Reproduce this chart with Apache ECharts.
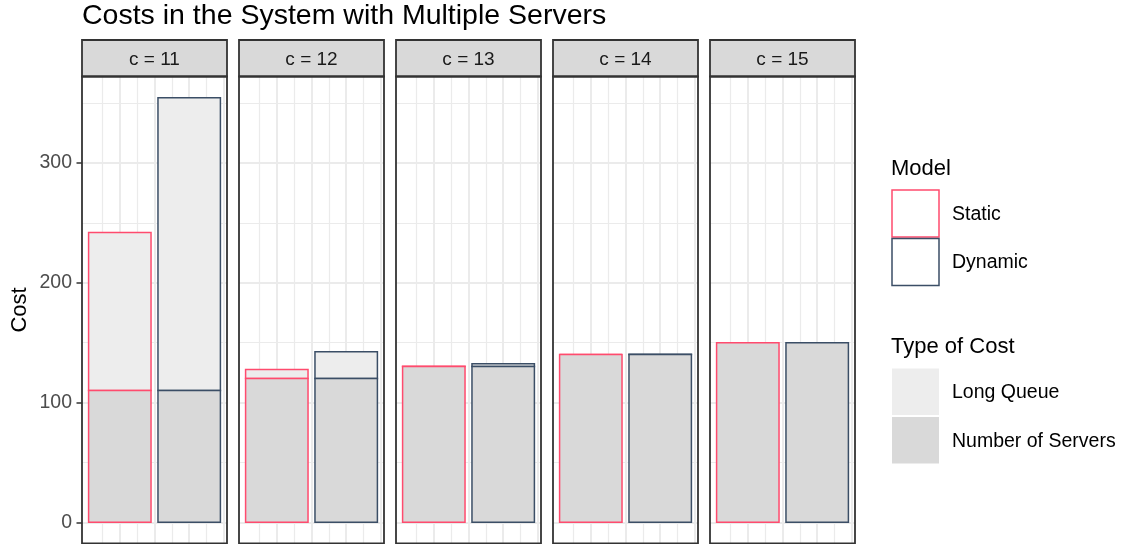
<!DOCTYPE html>
<html>
<head>
<meta charset="utf-8">
<script src="https://cdn.jsdelivr.net/npm/echarts@6/dist/echarts.min.js"></script>
<style>html,body{margin:0;padding:0;background:#fff}#c{width:1125px;height:544px}</style>
</head>
<body>
<div id="c"></div>
<script>
// ---- data ----
const facetLabels = ['c = 11', 'c = 12', 'c = 13', 'c = 14', 'c = 15'];
const modelNames = ['Static', 'Dynamic'];
const modelX = [1, 2];
const costTypes = ['Long Queue', 'Number of Servers'];
const serversStatic = [110, 120, 130, 140, 150];
const serversDynamic = [110, 120, 130, 140, 150];
const longQueueStatic = [132, 7.5, 0.3, 0, 0];
const longQueueDynamic = [244.5, 22.4, 2.4, 0.3, 0];
const yTickValues = [0, 100, 200, 300];
const yMinorValues = [50, 150, 250, 350];
const xMajorValues = [1, 1.5, 2, 2.5];
const xMinorValues = [0.75, 1.25, 1.75, 2.25];

// ---- style / layout ----
const FONT = 'Liberation Sans, Arial, Helvetica, sans-serif';
const modelColors = ['#ff4b6e', '#3b4e66'];
const typeFills = ['#ededed', '#d9d9d9'];
const P_LEFT0 = 82, P_STEP = 157, P_W = 145, P_TOP = 76.5, P_H = 467, STRIP_TOP = 40;
const BAR_HALF = 0.45;
const X_MIN = 0.455, X_MAX = 2.545;

const servers = [serversStatic, serversDynamic];
const longQ = [longQueueStatic, longQueueDynamic];
let maxTotal = 0;
for (let m = 0; m < 2; m++) for (let i = 0; i < 5; i++) maxTotal = Math.max(maxTotal, servers[m][i] + longQ[m][i]);
const Y_MIN = -0.05 * maxTotal, Y_MAX = maxTotal * 1.05;

const grids = [], xAxes = [], yAxes = [], series = [], graphics = [];

function renderBar(params, api) {
  const x = api.value(0), y0 = api.value(1), y1 = api.value(2);
  const t = api.value(3), m = api.value(4);
  const a = api.coord([x - BAR_HALF, y1]);
  const b = api.coord([x + BAR_HALF, y0]);
  return {
    type: 'rect',
    shape: { x: a[0], y: a[1], width: b[0] - a[0], height: b[1] - a[1] },
    style: { fill: typeFills[t], stroke: modelColors[m], lineWidth: 1.5 }
  };
}

facetLabels.forEach((lab, i) => {
  const left = P_LEFT0 + i * P_STEP;
  grids.push({ left: left, top: P_TOP, width: P_W, height: P_H, containLabel: false });
  xAxes.push({ type: 'value', gridIndex: i, min: X_MIN, max: X_MAX, show: false });
  yAxes.push({
    type: 'value', gridIndex: i, min: Y_MIN, max: Y_MAX,
    axisLine: { show: false },
    splitLine: { show: false },
    axisTick: i === 0 ? { show: true, customValues: yTickValues, length: 5.5, lineStyle: { color: '#333333', width: 1.5 } } : { show: false },
    axisLabel: i === 0 ? { show: true, customValues: yTickValues, color: '#4d4d4d', fontSize: 19.5, fontFamily: FONT, margin: 10 } : { show: false }
  });
  // gridlines through the axes' scales
  const ml = [];
  yTickValues.forEach(v => ml.push({ yAxis: v, lineStyle: { width: 2 } }));
  yMinorValues.forEach(v => ml.push({ yAxis: v, lineStyle: { width: 1.2 } }));
  xMajorValues.forEach(v => ml.push({ xAxis: v, lineStyle: { width: 2 } }));
  xMinorValues.forEach(v => ml.push({ xAxis: v, lineStyle: { width: 1.2 } }));
  series.push({
    type: 'line', xAxisIndex: i, yAxisIndex: i, data: [], z: 1, silent: true,
    markLine: { silent: true, z: 1, symbol: 'none', animation: false, label: { show: false },
      lineStyle: { color: '#ebebeb', type: 'solid' }, emphasis: { disabled: true }, data: ml }
  });
  const data = [];
  for (let m = 0; m < 2; m++) {
    const s = servers[m][i], q = longQ[m][i];
    data.push([modelX[m], s, s + q, 0, m]);
    data.push([modelX[m], 0, s, 1, m]);
  }
  series.push({
    type: 'custom', name: 'bars' + i, xAxisIndex: i, yAxisIndex: i, z: 3,
    renderItem: renderBar, encode: { x: 0, y: [1, 2] }, data: data, animation: false
  });
  // strip
  graphics.push({ type: 'rect', z: 100, shape: { x: left, y: STRIP_TOP, width: P_W, height: P_TOP - STRIP_TOP },
    style: { fill: '#d9d9d9', stroke: '#333333', lineWidth: 1.8 } });
  graphics.push({ type: 'text', z: 101, x: left + P_W / 2, y: (STRIP_TOP + P_TOP) / 2 + 1.5,
    style: { text: lab, fontSize: 19, fontFamily: FONT, fill: '#1a1a1a', align: 'center', verticalAlign: 'middle' } });
  // panel border
  graphics.push({ type: 'rect', z: 100, shape: { x: left, y: P_TOP, width: P_W, height: P_H },
    style: { fill: 'none', stroke: '#333333', lineWidth: 1.8 } });
});

// title & axis title
graphics.push({ type: 'text', z: 101, x: 82, y: 16.5,
  style: { text: 'Costs in the System with Multiple Servers', fontSize: 28.5, fontFamily: FONT, fill: '#000', align: 'left', verticalAlign: 'middle' } });
graphics.push({ type: 'text', z: 101, x: 20, y: P_TOP + P_H / 2, rotation: Math.PI / 2,
  style: { text: 'Cost', fontSize: 22, fontFamily: FONT, fill: '#000', align: 'center', verticalAlign: 'middle' } });

// legends
const LX = 892, LW = 47;
graphics.push({ type: 'text', z: 101, x: 891, y: 168.5,
  style: { text: 'Model', fontSize: 22, fontFamily: FONT, fill: '#000', align: 'left', verticalAlign: 'middle' } });
modelNames.forEach((n, k) => {
  const y = 190 + k * 48.5;
  graphics.push({ type: 'rect', z: 101, shape: { x: LX, y: y, width: LW, height: 47 },
    style: { fill: '#ffffff', stroke: modelColors[k], lineWidth: 1.5 } });
  graphics.push({ type: 'text', z: 101, x: 952, y: y + 24.5,
    style: { text: n, fontSize: 19.5, fontFamily: FONT, fill: '#000', align: 'left', verticalAlign: 'middle' } });
});
graphics.push({ type: 'text', z: 101, x: 891, y: 346.5,
  style: { text: 'Type of Cost', fontSize: 22, fontFamily: FONT, fill: '#000', align: 'left', verticalAlign: 'middle' } });
costTypes.forEach((n, k) => {
  const y = 368.5 + k * 48.5;
  graphics.push({ type: 'rect', z: 101, shape: { x: LX, y: y, width: LW, height: 46.5 },
    style: { fill: typeFills[k], stroke: 'none' } });
  graphics.push({ type: 'text', z: 101, x: 952, y: y + 24.5,
    style: { text: n, fontSize: 19.5, fontFamily: FONT, fill: '#000', align: 'left', verticalAlign: 'middle' } });
});

const chart = echarts.init(document.getElementById('c'), null, { renderer: 'canvas' });
chart.setOption({
  animation: false,
  backgroundColor: '#ffffff',
  grid: grids, xAxis: xAxes, yAxis: yAxes, series: series,
  graphic: { elements: graphics }
});
</script>
</body>
</html>
